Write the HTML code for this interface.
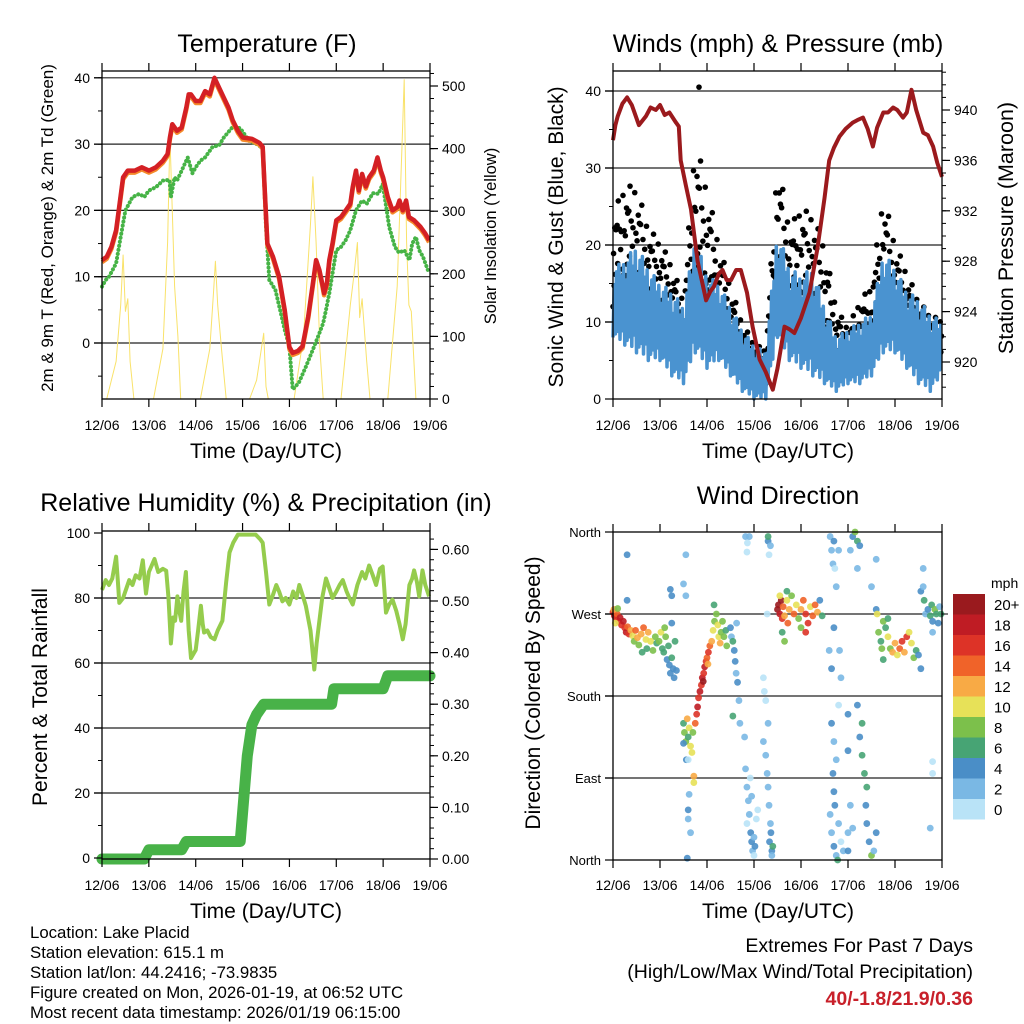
<!DOCTYPE html>
<html><head><meta charset="utf-8">
<style>
html,body{margin:0;padding:0;background:#fff;}
svg{display:block;font-family:"Liberation Sans",sans-serif;}
</style></head>
<body>
<svg id="fig" width="1024" height="1024" viewBox="0 0 1024 1024" xmlns="http://www.w3.org/2000/svg">
<rect x="0" y="0" width="1024" height="1024" fill="#fff"/>
<text x="267" y="52" font-size="25" text-anchor="middle">Temperature (F)</text>
<text x="778" y="52" font-size="25" text-anchor="middle">Winds (mph) &amp; Pressure (mb)</text>
<text x="266" y="511" font-size="25" text-anchor="middle">Relative Humidity (%) &amp; Precipitation (in)</text>
<text x="778" y="504" font-size="25" text-anchor="middle">Wind Direction</text>
<text x="266" y="458" font-size="21" text-anchor="middle">Time (Day/UTC)</text>
<text x="778" y="458" font-size="21" text-anchor="middle">Time (Day/UTC)</text>
<text x="266" y="918" font-size="21" text-anchor="middle">Time (Day/UTC)</text>
<text x="778" y="918" font-size="21" text-anchor="middle">Time (Day/UTC)</text>
<text transform="translate(53,228) rotate(-90)" font-size="17" text-anchor="middle">2m &amp; 9m T (Red, Orange) &amp; 2m Td (Green)</text>
<text transform="translate(496,236) rotate(-90)" font-size="16.5" text-anchor="middle">Solar Insolation (Yellow)</text>
<text transform="translate(563,237) rotate(-90)" font-size="21" text-anchor="middle">Sonic Wind &amp; Gust (Blue, Black)</text>
<text transform="translate(1013,228) rotate(-90)" font-size="21.5" text-anchor="middle">Station Pressure (Maroon)</text>
<text transform="translate(47,697) rotate(-90)" font-size="21" text-anchor="middle">Percent &amp; Total Rainfall</text>
<text transform="translate(540,693) rotate(-90)" font-size="21" text-anchor="middle">Direction (Colored By Speed)</text>
<g font-size="16.8">
<text x="30" y="938">Location: Lake Placid</text>
<text x="30" y="958">Station elevation: 615.1 m</text>
<text x="30" y="978">Station lat/lon: 44.2416; -73.9835</text>
<text x="30" y="998">Figure created on Mon, 2026-01-19, at 06:52 UTC</text>
<text x="30" y="1018">Most recent data timestamp: 2026/01/19 06:15:00</text>
</g>
<g font-size="19.5" text-anchor="end">
<text x="973" y="952">Extremes For Past 7 Days</text>
<text x="973" y="978">(High/Low/Max Wind/Total Precipitation)</text>
<text x="973" y="1005" fill="#c8202a" font-weight="bold">40/-1.8/21.9/0.36</text>
</g>
<g id="layer"></g>
</svg>
<script>
// ---- data ----
const dayLabels=["12/06","13/06","14/06","15/06","16/06","17/06","18/06","19/06"];
const tempT=[0,0.1,0.2,0.3,0.45,0.55,0.7,0.85,1.0,1.15,1.3,1.4,1.45,1.5,1.6,1.7,1.8,1.85,1.9,2.0,2.1,2.2,2.3,2.4,2.5,2.6,2.7,2.79,2.9,3.0,3.2,3.36,3.43,3.48,3.53,3.65,3.78,3.9,4.0,4.07,4.18,4.28,4.4,4.5,4.57,4.64,4.7,4.74,4.8,4.85,4.92,5.0,5.1,5.2,5.3,5.35,5.42,5.48,5.55,5.63,5.7,5.8,5.88,5.95,6.0,6.1,6.2,6.3,6.35,6.42,6.49,6.55,6.66,6.8,6.9,6.98];
const tempV=[12.5,13,14.5,17,25,26,26,26.5,26,26.5,27.5,28.5,31,33,32,32.5,35.5,37.5,37.5,36.5,36.5,38,37.5,40,38.5,37,35.5,33.6,32,31,30.8,30.2,29.6,22,15,13,10,5,-0.6,-1.5,-1.2,-0.5,4,9,12.5,11,9,7.5,9,12.5,15,18.5,19,20,21,23.5,26,23,25.5,23.6,25,26,28,26,25,22,20,20.5,21.5,20,21.5,19,18.5,17.5,16.5,15.5];
const dewT=[0,0.08,0.15,0.3,0.4,0.5,0.65,0.8,0.9,1.0,1.15,1.3,1.44,1.47,1.55,1.6,1.7,1.83,1.93,2.0,2.1,2.2,2.36,2.5,2.6,2.79,2.95,3.14,3.3,3.43,3.5,3.57,3.7,3.8,3.9,4.0,4.07,4.2,4.35,4.5,4.64,4.72,4.78,4.85,5.0,5.1,5.2,5.3,5.42,5.55,5.65,5.78,5.9,5.99,6.13,6.25,6.34,6.45,6.56,6.62,6.7,6.77,6.85,6.98];
const dewV=[8.5,9.5,10,12,16,20,22,22.5,22,23,23.5,24.5,24.6,22,25,24.5,26,28,25.6,26.5,27.5,28,29.6,29.8,31,32.6,32.4,30.5,30,29.4,17.5,9.5,8,5,2,-0.6,-7,-6,-3.6,-1,1.5,3,5,7.5,14,14.5,15.5,17,20,21.5,21,22.6,22.5,24,17.5,14.5,13.6,14,12.5,15,16,14,13,10.5];
const solarT=[0,0.1,0.3,0.4,0.45,0.5,0.55,0.6,0.68,1.1,1.3,1.4,1.45,1.5,1.55,1.62,1.68,2.1,2.3,2.38,2.42,2.47,2.55,2.65,3.15,3.3,3.38,3.45,3.5,3.55,4.1,4.3,4.45,4.5,4.57,4.65,4.72,5.1,5.3,5.38,5.45,5.5,5.55,5.65,5.72,6.1,6.3,6.4,6.45,6.5,6.55,6.6,6.7,7];
const solarV=[0,0,60,150,230,140,160,60,0,0,80,250,420,300,180,100,0,0,80,170,220,150,80,0,0,30,70,105,20,0,0,100,280,355,250,80,0,0,150,200,250,130,160,60,0,0,180,400,510,250,150,140,0,0];
const windT=[0,0.25,0.5,0.75,1,1.25,1.5,1.75,2,2.25,2.5,2.75,3,3.25,3.5,3.75,4,4.25,4.5,4.75,5,5.25,5.5,5.75,6,6.25,6.5,6.75,7];
const windLow=[8,7,6,5,5,3,2,6,4,5,3,1,0,0,8,5,4,3,2,1,2,2,3,6,6,4,2,1,3];
const windHigh=[17,18,20,17,15,14,12,21,16,15,12,9,7,6,22,17,16,17,12,8,9,10,11,19,17,14,13,11,10];
const gustLow=[12,13,12,11,10,8,5,13,11,9,6,3,2,2,14,11,11,10,7,4,4,5,6,11,9,7,5,4,5];
const gustHigh=[26,30,30,24,22,19,14,37,30,22,16,11,8,7,34,24,27,26,22,13,10,14,16,29,22,18,14,12,11];
const gustOutlierT=[1.83], gustOutlierV=[40.5];
const presT=[0,0.05,0.1,0.2,0.3,0.4,0.55,0.7,0.8,0.91,1.0,1.1,1.2,1.34,1.4,1.44,1.55,1.66,1.8,1.98,2.07,2.15,2.25,2.33,2.42,2.51,2.62,2.72,2.85,2.97,3.12,3.25,3.4,3.5,3.65,3.75,3.86,4.0,4.18,4.35,4.5,4.6,4.7,4.82,4.95,5.1,5.2,5.32,5.42,5.53,5.62,5.75,5.85,5.96,6.05,6.17,6.25,6.35,6.45,6.6,6.7,6.81,6.9,7];
const presV=[937.6,938.8,939.5,940.5,941,940.4,938.8,939.5,940.2,940,940.4,939.6,939.8,939,938.7,936,934,932.1,928,924.9,925.6,926,927,927.3,926.5,926.5,927.3,927.3,925.5,922.8,920.2,919.2,917.8,919.5,922.8,922.6,922.3,923.5,925.5,929,933,936,937,937.9,938.5,939,939.2,939.4,938.5,937.1,938.6,939.8,939.8,940.2,940,939.4,939.8,941.6,940,938.2,938,937.1,935.8,934.7];
const rhT=[0,0.08,0.15,0.22,0.3,0.34,0.37,0.45,0.52,0.58,0.65,0.72,0.8,0.87,0.94,1.0,1.06,1.12,1.2,1.3,1.37,1.42,1.47,1.52,1.56,1.61,1.65,1.69,1.74,1.79,1.85,1.9,2.0,2.05,2.11,2.15,2.18,2.25,2.32,2.4,2.47,2.57,2.65,2.72,2.8,2.9,3.1,3.28,3.38,3.43,3.5,3.57,3.65,3.72,3.78,3.85,3.92,4.0,4.08,4.15,4.21,4.3,4.35,4.45,4.53,4.58,4.64,4.7,4.78,4.85,4.92,5.0,5.07,5.14,5.22,5.28,5.35,5.45,5.55,5.62,5.7,5.78,5.85,5.93,5.99,6.06,6.13,6.2,6.28,6.35,6.42,6.48,6.56,6.62,6.66,6.72,6.77,6.84,6.9,6.98];
const rhV=[82.5,85.5,84,86,92.7,85,78.5,80,83,85.5,84,87,86,91.6,81.4,88,90,92,88,89,88.4,80,66,74,73,80.5,76,73,82,88,70,61.5,64,70,77.6,72,69.4,70,68,67.3,70,73,85,94,97,99.5,99.5,99.5,98,97,88,78,81,84,82,79,80,78,82,80,84,80,77.6,70,58,66,73,80,86,83,80,82,84,85.5,82,80,78,84,88,86,90,87,84,89,89.7,75.5,78,79.5,76,72,67.3,72,84,86,88.5,85,80.5,88.5,84,80.5];
const precipT=[0,0.9,1.0,1.7,1.8,2.95,3.1,3.2,3.3,3.45,4.9,4.95,6.0,6.1,7];
const precipV=[0,0,0.018,0.018,0.034,0.034,0.2,0.26,0.28,0.30,0.30,0.33,0.33,0.355,0.355];
const dirT=[0,0.03,0.06,0.09,0.12,0.15,0.18,0.22,0.25,0.28,0.31,0.34,0.02,0.05,0.1,
0.38,0.42,0.45,0.48,0.52,0.55,0.6,0.65,0.7,0.75,0.8,0.85,0.9,0.93,0.72,0.62,0.3,0.3,
0.98,1.02,1.05,1.08,1.1,1.12,1.15,1.18,1.2,1.22,1.25,1.28,1.3,1.32,1.35,1.25,1.25,1.22,1.5,1.55,1.55,
1.5,1.52,1.55,1.58,1.6,1.62,1.65,1.68,1.7,1.56,1.5,1.72,1.72,1.62,1.6,1.6,1.65,1.58,1.6,
1.75,1.78,1.8,1.82,1.85,1.88,1.9,1.93,1.95,1.98,2.0,2.03,2.06,1.92,2.02,
2.1,2.13,2.16,2.2,2.23,2.25,2.28,2.3,2.33,2.36,2.4,2.15,2.42,
2.5,2.52,2.55,2.58,2.6,2.62,2.65,2.55,2.63,2.68,2.7,
2.82,2.86,2.9,2.85,2.8,2.82,2.85,2.88,2.9,2.93,2.95,2.97,3.0,2.85,3.0,3.05,2.92,2.95,3.02,3.08,
3.2,3.22,3.25,3.2,3.25,3.28,3.3,3.32,3.35,3.33,3.38,3.36,3.4,3.3,3.32,3.3,3.3,3.35,3.28,3.38,
3.5,3.52,3.55,3.58,3.6,3.55,3.62,3.65,3.7,3.72,3.75,3.8,3.85,3.9,3.95,4.0,4.05,4.1,4.15,4.2,4.25,4.3,4.35,4.4,4.45,3.6,3.65,3.7,4.0,4.1,
4.62,4.65,4.68,4.7,4.72,4.8,4.75,4.6,4.65,4.7,4.82,4.85,4.8,4.65,4.7,4.75,4.68,4.7,4.72,4.62,4.65,4.7,4.75,4.8,4.85,4.9,4.78,5.0,5.0,5.05,5.1,5.0,5.0,
5.1,5.15,5.2,5.25,5.05,5.2,5.25,5.3,5.35,5.4,5.38,5.4,5.45,5.5,5.55,5.3,5.2,5.6,5.6,5.6,5.5,
5.62,5.65,5.7,5.72,5.75,5.8,5.85,5.9,5.95,6.0,6.05,6.1,6.15,6.2,6.25,6.3,6.35,6.4,6.45,5.75,5.85,
6.55,6.6,6.62,6.65,6.7,6.75,6.78,6.8,6.85,6.88,6.92,6.95,6.98,6.6,6.5,6.55,6.8,6.8,6.75,6.8];
const dirD=[272,268,265,270,262,266,258,262,255,250,256,248,275,260,276,
252,246,240,252,244,236,248,255,242,250,240,230,245,238,232,228,285,335,
240,250,232,228,255,245,220,235,214,205,222,210,200,240,208,260,290,297,303,335,290,
150,140,130,155,135,145,125,118,140,110,128,92,85,72,55,45,30,2,110,
150,160,168,178,185,192,200,205,212,218,222,228,235,196,215,
240,252,262,270,258,245,238,250,262,245,252,280,235,
255,245,240,230,218,205,195,158,260,175,150,
355,348,355,338,135,100,80,65,50,30,20,10,25,40,5,45,90,70,15,55,
200,185,175,130,115,95,80,60,40,20,10,30,15,150,335,350,355,345,270,5,
275,280,270,285,265,290,278,268,285,260,275,290,270,280,265,275,285,270,260,278,268,280,272,285,268,250,240,295,255,250,
355,340,325,350,320,340,300,230,210,255,230,200,170,150,130,110,95,75,60,50,30,15,5,40,20,10,0,160,120,60,35,30,10,
355,360,350,345,340,320,135,115,95,80,60,40,20,5,10,150,170,30,330,275,300,
270,250,240,232,262,255,245,232,228,238,225,232,240,228,245,250,238,222,230,220,265,
295,300,285,270,275,268,280,262,275,270,260,278,270,320,225,210,108,95,35,250];
const dirS=[16,18,17,14,16,18,16,19,17,18,15,16,12,10,8,
13,11,9,14,12,8,13,15,10,13,11,9,9,7,6,7,4,4,
8,10,7,6,9,8,5,6,5,4,6,5,4,6,5,5,4,4,3,3,3,
6,8,9,12,7,10,11,10,8,4,5,12,10,3,4,3,2,5,1,
14,17,18,16,18,17,19,16,18,17,15,16,14,20,13,
12,10,8,9,11,10,12,9,8,9,6,7,8,
4,3,6,5,4,3,4,7,3,3,3,
2,1,2,1,3,2,2,3,2,4,4,3,2,1,1,1,1,2,4,1,
1,1,1,2,2,2,3,3,2,4,5,4,6,2,1,4,6,2,1,3,
20,21,18,20,16,10,14,12,10,14,12,8,15,11,9,13,14,16,16,11,15,14,12,4,6,6,8,7,8,16,
2,3,2,4,1,3,2,3,4,4,2,2,1,4,3,3,4,4,4,3,2,4,3,2,1,3,6,4,4,2,2,3,4,
4,8,6,4,2,2,4,6,6,6,5,4,4,8,3,6,4,4,3,4,3,
10,8,6,9,8,7,10,9,12,12,10,14,16,12,16,11,10,8,6,6,6,
4,3,6,2,5,6,7,4,8,7,5,3,7,3,5,4,1,1,2,3];
const speedBins=["0","2","4","6","8","10","12","14","16","18","20+"];
const speedColors=["#b9e3f7","#7ab8e4","#4a8ec7","#47a474","#7cc04b","#e7e158","#f8aa45","#f06329","#dd3327","#bf1c24","#9a1a1e"];

// ---- helpers ----
const NS="http://www.w3.org/2000/svg";
const layer=document.getElementById('layer');
function mk(tag,attrs,parent){const e=document.createElementNS(NS,tag);for(const k in attrs)e.setAttribute(k,attrs[k]);(parent||layer).appendChild(e);return e;}
function ptsStr(ts,vs,xf,yf){return ts.map((t,i)=>xf(t).toFixed(1)+','+yf(vs[i]).toFixed(1)).join(' ');}

const P1={l:102,r:430,t:71,b:399}, P2={l:613,r:942,t:71,b:399}, P3={l:102,r:430,t:531,b:859}, P4={l:613,r:942,t:532,b:860};
const xs=P=>t=>P.l+t/7*(P.r-P.l);
const x1=xs(P1),x2=xs(P2),x3=xs(P3),x4=xs(P4);
const yT=v=>343-v*6.63, ySol=v=>399-v*0.626;
const yW=v=>399-v*7.7, yP=v=>362-(v-920)*12.6;
const yRH=v=>858-v*3.25, yPr=v=>859-v*516;
const yD=v=>860-v*328/360;

function grid(P,yf,vals,name){
  const g=mk('g',{});
  
  
  vals.forEach(v=>mk('line',{x1:P.l-8,x2:P.r,y1:yf(v),y2:yf(v),stroke:'#222','stroke-width':1.2},g));
}
function frame(P,name,xf,bottomLabelY){
  const g=mk('g',{});
  
  
  mk('rect',{x:P.l,y:P.t,width:P.r-P.l,height:P.b-P.t,fill:'none',stroke:'#000','stroke-width':1.3},g);
  dayLabels.forEach((d,i)=>{
    const x=xf(i);
    mk('line',{x1:x,x2:x,y1:P.t,y2:P.t-8,stroke:'#000','stroke-width':1.2},g);
    mk('line',{x1:x,x2:x,y1:P.b,y2:P.b+8,stroke:'#000','stroke-width':1.2},g);
    const tx=mk('text',{x:x,y:bottomLabelY,'font-size':14,'text-anchor':'middle'},g);
    
    
    tx.textContent=d;
  });
}
function yaxis(P,yf,side,majors,minors,labels,name,fs){
  const g=mk('g',{});
  
  
  const x0=side==='l'?P.l:P.r, dir=side==='l'?-1:1;
  minors.forEach(v=>mk('line',{x1:x0,x2:x0+dir*4,y1:yf(v),y2:yf(v),stroke:'#000','stroke-width':1},g));
  majors.forEach((v,i)=>{
    mk('line',{x1:x0,x2:x0+dir*8,y1:yf(v),y2:yf(v),stroke:'#000','stroke-width':1.2},g);
    const t=mk('text',{x:x0+dir*12,y:yf(v)+5,'font-size':fs||14,'text-anchor':side==='l'?'end':'start'},g);
    
    
    t.textContent=labels[i];
  });
}
function range(a,b,s){const r=[];for(let v=a;v<=b+1e-9;v+=s)r.push(+v.toFixed(4));return r;}

// ---- Panel 1: temperature ----
grid(P1,yT,[0,10,20,30,40],'temp-gridlines');
let e;
e=mk('polyline',{points:ptsStr(solarT,solarV,x1,ySol),fill:'none',stroke:'#f9e26a','stroke-width':1,'stroke-linejoin':'round'});


e=mk('polyline',{points:ptsStr(dewT,dewV,x1,yT),fill:'none',stroke:'#46b346','stroke-width':4,'stroke-dasharray':'0.1 4','stroke-linecap':'round','stroke-linejoin':'round'});


e=mk('polyline',{points:ptsStr(tempT,tempV.map(v=>v-0.3),x1,yT),fill:'none',stroke:'#f58a2a','stroke-width':4.5,'stroke-linejoin':'round'});


e=mk('polyline',{points:ptsStr(tempT,tempV,x1,yT),fill:'none',stroke:'#d42024','stroke-width':4.5,'stroke-linejoin':'round'});


frame(P1,'temp-frame',x1,430);
yaxis(P1,yT,'l',[0,10,20,30,40],range(-5,40,5),['0','10','20','30','40'],'temp-left-axis');
yaxis(P1,ySol,'r',range(0,500,100),range(0,520,20),['0','100','200','300','400','500'],'solar-right-axis');

// ---- Panel 2: winds & pressure ----
grid(P2,yW,[10,20,30,40],'wind-gridlines');
const frac=[0,0.55,0.2,0.85,0.35,1,0.1,0.7,0.45,0.92,0.28,0.62,0.05,0.5,0.78,0.15,0.4,0.95,0.3,0.66];
const gg=mk('g',{});


for(let i=0;i<windT.length-1;i++){
  for(let k=0;k<20;k++){
    const f=k/20, t=windT[i]+f*(windT[i+1]-windT[i]);
    const lo=gustLow[i]+f*(gustLow[i+1]-gustLow[i]), hi=gustHigh[i]+f*(gustHigh[i+1]-gustHigh[i]);
    const v=lo+frac[k]*frac[(k*7)%20]*(hi-lo)*0.4+frac[k]*(hi-lo)*0.6;
    mk('circle',{cx:x2(t),cy:yW(v),r:2.8,fill:'#000'},gg);
  }
}
gustOutlierT.forEach((t,i)=>mk('circle',{cx:x2(t),cy:yW(gustOutlierV[i]),r:2.8,fill:'#000'},gg));
const wp=[];
for(let i=0;i<windT.length-1;i++){
  for(let k=0;k<10;k++){
    const f=k/10, t=windT[i]+f*(windT[i+1]-windT[i]);
    const lo=windLow[i]+f*(windLow[i+1]-windLow[i]), hi=windHigh[i]+f*(windHigh[i+1]-windHigh[i]);
    const v=lo+(k%2===0?frac[k]*0.35:0.45+frac[k]*0.55)*(hi-lo);
    wp.push(x2(t).toFixed(1)+','+yW(v).toFixed(1));
  }
}
e=mk('polyline',{points:wp.join(' '),fill:'none',stroke:'#4a93d0','stroke-width':3.5,'stroke-linejoin':'round'});


e=mk('polyline',{points:ptsStr(presT,presV,x2,yP),fill:'none',stroke:'#9b1a1d','stroke-width':4,'stroke-linejoin':'round'});


frame(P2,'wind-frame',x2,430);
yaxis(P2,yW,'l',[0,10,20,30,40],range(0,40,5),['0','10','20','30','40'],'wind-left-axis');
yaxis(P2,yP,'r',[920,924,928,932,936,940],range(918,943,1),['920','924','928','932','936','940'],'pressure-right-axis');

// ---- Panel 3: RH & precip ----
grid(P3,yRH,[20,40,60,80],'rh-gridlines');
e=mk('polyline',{points:ptsStr(rhT,rhV,x3,yRH),fill:'none',stroke:'#95cc4d','stroke-width':4,'stroke-linejoin':'round'});


e=mk('polyline',{points:ptsStr(precipT,precipV,x3,yPr),fill:'none',stroke:'#48b248','stroke-width':11,'stroke-linejoin':'round','stroke-linecap':'round'});


frame(P3,'rh-frame',x3,890);
yaxis(P3,yRH,'l',[0,20,40,60,80,100],range(0,100,10),['0','20','40','60','80','100'],'rh-left-axis');
yaxis(P3,yPr,'r',range(0,0.6,0.1),range(0,0.62,0.02),['0.00','0.10','0.20','0.30','0.40','0.50','0.60'],'precip-right-axis');

// ---- Panel 4: wind direction ----
grid(P4,yD,[90,180,270],'direction-gridlines');
const dg=mk('g',{});


dirT.forEach((t,i)=>{
  const s=dirS[i]; const bi=Math.min(10,Math.floor(s/2));
  mk('circle',{cx:x4(t),cy:yD(dirD[i]),r:3.4,fill:speedColors[bi],'fill-opacity':0.9},dg);
});
frame(P4,'direction-frame',x4,890);
yaxis(P4,yD,'l',[0,90,180,270,360],[],['North','East','South','West','North'],'direction-left-axis',13);
mk('line',{x1:P4.r,x2:P4.r+6,y1:yD(270),y2:yD(270),stroke:'#000'});
// colorbar
const cb=mk('g',{});


const ct=mk('text',{x:991,y:588,'font-size':14},cb);
ct.textContent='mph';
for(let i=0;i<speedBins.length;i++){
  const k=speedBins.length-1-i, y=594+i*20.5;
  mk('rect',{x:953,y:y,width:32,height:20.5,fill:speedColors[k]},cb);
  const lt=mk('text',{x:994,y:y+16,'font-size':15},cb);
  
  
  lt.textContent=speedBins[k];
}
</script>
</body></html>
